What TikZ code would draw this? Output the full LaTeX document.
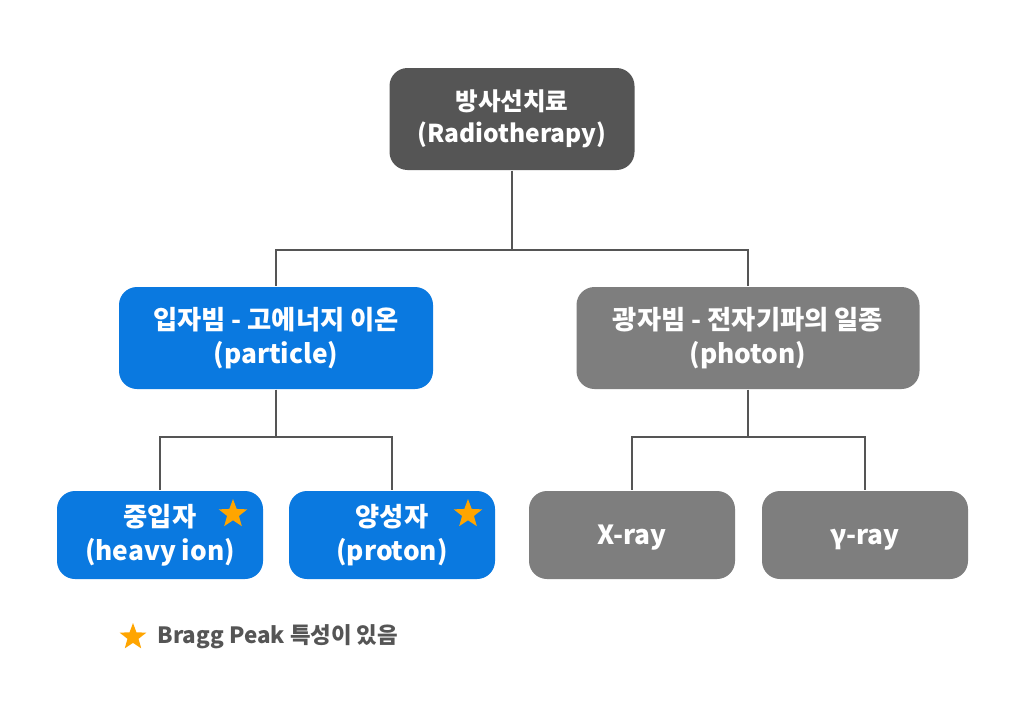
\documentclass[tikz,border=0pt]{standalone}
\usepackage{fontspec}
\setmainfont{Noto Sans CJK KR}
\usepackage{tikz}
\usetikzlibrary{shapes.geometric}

\definecolor{rootgray}{HTML}{555555}
\definecolor{partblue}{HTML}{0A79E0}
\definecolor{photgray}{HTML}{7E7E7E}
\definecolor{starorange}{HTML}{FFA500}

\begin{document}
\begin{tikzpicture}[x=1pt,y=-1pt,
    line width=1.4pt, draw=rootgray,
    base box/.style={rounded corners=18pt,text=white,align=center,font=\fontsize{26.3}{34}\selectfont\bfseries,inner sep=0pt},
    top box/.style={base box,fill=rootgray,minimum width=245pt,minimum height=102pt,font=\fontsize{24.6}{32}\selectfont\bfseries},
    mid box/.style={base box,minimum height=102pt},
    leaf box/.style={base box,minimum width=206pt,minimum height=88pt},
    bstar/.style={star,star points=5,star point ratio=2.4,fill=starorange,draw=none,minimum size=30pt,inner sep=0pt}]

  \useasboundingbox[fill=white] (0,0) rectangle (1024,725);

  \node[top box]                                      (root)  at (512,119) {방사선치료\\(Radiotherapy)};
  \node[mid box,fill=partblue,minimum width=314pt]    (part)  at (276,338) {입자빔 - 고에너지 이온\\(particle)};
  \node[mid box,fill=photgray,minimum width=343pt]    (phot)  at (748,338) {광자빔 - 전자기파의 일종\\(photon)};

  \node[leaf box,fill=partblue]  (heavy)  at (160,535) {중입자\\(heavy ion)};
  \node[leaf box,fill=partblue]  (proton) at (392,535) {양성자\\(proton)};
  \node[leaf box,fill=photgray]  (xray)   at (632,535) {\raisebox{-9.5pt}[0pt][0pt]{X-ray}};
  \node[leaf box,fill=photgray]  (gray)   at (865,535) {\raisebox{-9.5pt}[0pt][0pt]{γ-ray}};

  % stars for Bragg peak
  \node[bstar] (sheavy)  at (233,514) {};
  \node[bstar] (sproton) at (468,514) {};

  % connectors
  \coordinate (rbus) at (512,250);
  \coordinate (pbus) at (276,437);
  \coordinate (fbus) at (748,437);
  \draw (root.south) -- (rbus) -| (part.north);
  \draw (rbus) -| (phot.north);
  \draw (part.south) -- (pbus) -| (heavy.north);
  \draw (pbus) -| (proton.north);
  \draw (phot.south) -- (fbus) -| (xray.north);
  \draw (fbus) -| (gray.north);

  % legend
  \node[bstar,minimum size=28pt] (lstar) at (133,637) {};
  \node[anchor=west,text=rootgray,font=\fontsize{22.4}{26}\selectfont\bfseries,inner sep=0pt] (ltext) at (157,637) {Bragg Peak 특성이 있음};

\end{tikzpicture}
\end{document}
